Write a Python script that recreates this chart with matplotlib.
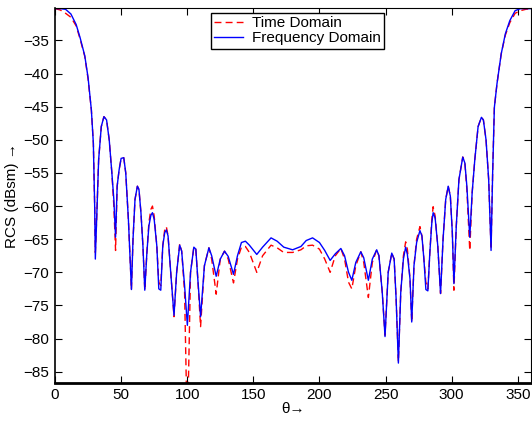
import matplotlib
matplotlib.use("Agg")
import matplotlib.pyplot as plt

plt.rcParams['font.family'] = ['Liberation Sans', 'DejaVu Sans']
plt.rcParams['font.size'] = 11

# angle samples (deg), peaks / nulls / shoulders
theta = [0, 4, 8, 12, 16, 19, 22.5, 25, 27.5, 29, 30, 30.5, 31.5, 33, 35, 37, 39, 41, 43, 44.5,
         45.8, 47, 48.5, 50, 52, 53.5, 55.5, 57.8, 59, 60.5, 62.3, 63.5, 65, 66.5, 67.9, 69.5,
         71, 72.5, 73.7, 75, 77, 78.5, 80, 81.5, 83, 84.2, 85.5, 87.5, 90, 92, 94.3, 95.8, 98,
         100.1, 102.5, 105, 106.5, 108, 110.1, 113, 116.4, 118.5, 121.9, 125, 128.2, 131, 135,
         138, 141, 144, 147, 152.6, 157, 163.4, 168, 173, 179.7, 186, 190, 194.8, 200, 204,
         208.1, 212, 216.2, 219, 222, 224.5, 227.5, 231.3, 233.5, 237, 240, 243.3, 245, 247.5,
         249.6, 252, 254.7, 256.5, 258, 259.7, 261.5, 263.5, 265.2, 266.5, 268.5, 269.8, 271.5,
         273.5, 276, 277.5, 279, 280.5, 282, 283.5, 285, 286, 287.5, 289.5, 291.6, 293.5, 295.5,
         297.4, 299, 300.5, 301.7, 303.5, 305.5, 308.4, 310, 311.5, 313.7, 315.5, 317.5, 320,
         322.5, 324, 326, 328, 329.8, 331, 332.3, 334.3, 337.5, 340.6, 344, 348, 352, 356, 360]

freq_rcs = [-30.2, -30.2, -30.3, -31.0, -32.6, -34.6, -37.3, -40.6, -45.5, -50.5, -60, -68.0, -62, -53, -48, -46.5, -47.0, -50, -55, -59,
            -64.7, -57, -54.5, -52.8, -52.7, -55, -62, -72.6, -65, -59, -57.0, -57.5, -61, -66, -72.7, -67,
            -63, -61.4, -61.0, -62, -66, -72.5, -72.7, -66, -64, -63.6, -64.5, -70, -76.5, -70, -65.9, -66.8, -72,
            -78.0, -70, -66.2, -66.5, -71, -76.7, -69, -66.3, -67.5, -70.6, -68, -66.8, -67.6, -70.3,
            -67.5, -65.5, -65.3, -65.9, -67.3, -66.2, -64.8, -65.3, -66.2, -66.6, -66.1, -65.2, -64.8, -65.5, -66.7,
            -68.2, -67.2, -66.4, -67.5, -70.0, -71.2, -68.5, -66.9, -67.8, -71.2, -68, -66.6, -67.5, -73,
            -79.7, -70, -67.1, -68, -74, -83.7, -73, -68, -66.2, -67.3, -71, -77.5, -69,
            -65.5, -63.7, -64.5, -68, -72.6, -72.8, -67, -62.5, -61.0, -61.8, -66, -73.2, -65, -59,
            -57.0, -58.5, -64, -71.7, -63, -56, -52.6, -53.5, -57, -64.7, -58, -53, -48,
            -46.6, -47, -50, -56, -66.7, -55, -45.1, -41.5, -37, -34.0, -32.0, -30.5, -30.2, -30.2, -30.2]

time_rcs = [-30.2, -30.4, -30.9, -31.5, -32.8, -34.8, -37.4, -40.8, -45.5, -50.5, -60, -67.0, -62, -53, -48, -46.5, -47.0, -50, -55, -60,
            -66.7, -57, -54.5, -52.8, -52.7, -55, -62, -72.6, -65, -59, -57.0, -57.5, -61, -66, -72.7, -67,
            -62.5, -60.5, -60.0, -61.5, -66, -71.5, -72.0, -66, -63.5, -63.1, -64.5, -70, -76.7, -70, -65.7, -66.8, -73,
            -95.0, -70, -66.2, -66.5, -71, -78.2, -69, -66.3, -68, -73.3, -68, -66.8, -68, -71.6,
            -68, -66.2, -66.1, -67, -70.0, -67.5, -65.9, -66.3, -67.0, -67.0, -66.6, -66.0, -65.9, -66.5, -68,
            -70.0, -67.5, -66.4, -68, -71.5, -72.5, -69, -66.9, -68.5, -73.8, -68.5, -66.6, -67.5, -73,
            -79.5, -70, -67.1, -68, -74, -83.5, -73, -67.5, -65.4, -66.5, -71, -77.5, -69,
            -65, -63.1, -64.5, -68, -71.5, -72.5, -67, -62, -60.1, -61.5, -66, -73.2, -65, -59,
            -57.0, -58.5, -64, -72.7, -63, -56, -52.6, -53.5, -57.5, -66.7, -58, -53, -48,
            -46.6, -47, -50, -56, -66.5, -55, -45.1, -41.5, -37, -34.2, -32.3, -30.9, -30.5, -30.3, -30.2]

xticks = [0, 50, 100, 150, 200, 250, 300, 350]
yticks = [-85, -80, -75, -70, -65, -60, -55, -50, -45, -40, -35]

fig = plt.figure(figsize=(5.32, 4.21), dpi=100)
ax = fig.add_axes([0.1034, 0.091, 0.8947, 0.890])

l1, = ax.plot(theta, time_rcs, color='red', linestyle='--', dashes=(5, 3), linewidth=1, label='Time Domain')
l2, = ax.plot(theta, freq_rcs, color='blue', linewidth=1, label='Frequency Domain')

ax.set_xlim(0, 360)
ax.set_ylim(-86.66, -30.1)
ax.set_xticks(xticks)
ax.set_yticks(yticks)
ax.tick_params(direction='in', top=True, right=True, length=5, labelsize=11)
ax.tick_params(axis='x', pad=4)
ax.tick_params(axis='y', pad=4)

for side in ['top', 'right']:
    ax.spines[side].set_linewidth(0.8)
ax.spines['left'].set_linewidth(1.2)
ax.spines['bottom'].set_linewidth(2)

ax.set_xlabel('θ→', labelpad=0)
ax.set_ylabel('RCS (dBsm) →', labelpad=3)

leg = ax.legend(handles=[l1, l2], loc='upper left', bbox_to_anchor=(0.328, 0.987),
                borderaxespad=0, fancybox=False, framealpha=1, edgecolor='black',
                handlelength=1.9, handletextpad=0.6, labelspacing=0.1, borderpad=0.2, fontsize=11)
leg.get_frame().set_linewidth(1)

fig.savefig('out.png', dpi=100)
